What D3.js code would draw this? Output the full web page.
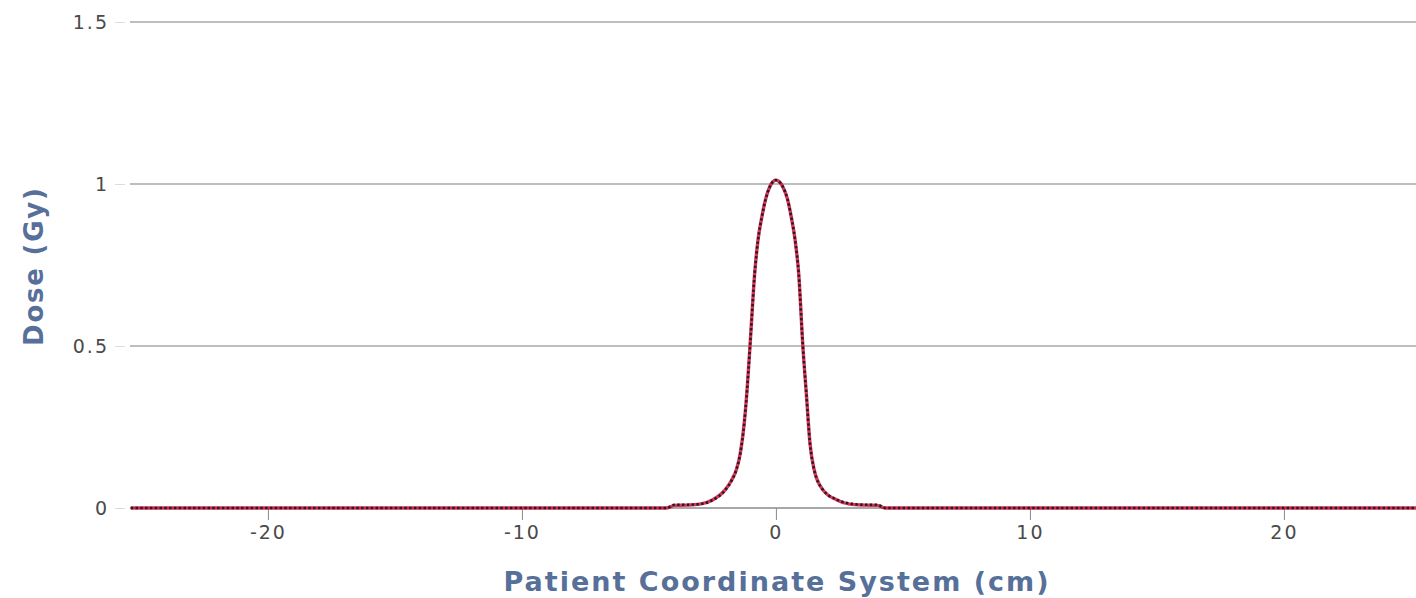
<!DOCTYPE html>
<html>
<head>
<meta charset="utf-8">
<script src="https://cdn.jsdelivr.net/npm/d3@7"></script>
<style>
  html, body { margin: 0; padding: 0; background: #fff; }
  svg { display: block; font-family: "DejaVu Sans", sans-serif; }
</style>
</head>
<body>
<svg id="chart" width="1416" height="598"></svg>
<script>
// Dose profile across the patient coordinate system
const yTicks = [0, 0.5, 1, 1.5];
const xTicks = [-20, -10, 0, 10, 20];
const xTickLabels = ["-20", "-10", "0", "10", "20"];

// Calculated profile (solid red)
const calcPos  = [-25.4, -4.3, -4.0, -3.5, -3.0, -2.5, -2.0, -1.75, -1.55, -1.4, -1.25, -1.14, -1.02, -0.83, -0.7, -0.55, -0.4, -0.25, -0.12, 0.0, 0.12, 0.28, 0.45, 0.6, 0.75, 0.9, 1.06, 1.2, 1.34, 1.5, 1.85, 2.4, 2.9, 3.5, 4.0, 4.3, 25.4];
const calcDose = [0, 0, 0.008, 0.009, 0.012, 0.025, 0.056, 0.085, 0.12, 0.17, 0.26, 0.36, 0.5, 0.73, 0.83, 0.9, 0.955, 0.99, 1.007, 1.012, 1.008, 0.99, 0.955, 0.9, 0.83, 0.72, 0.5, 0.35, 0.2, 0.12, 0.056, 0.025, 0.012, 0.009, 0.008, 0, 0];

// Measured profile (black dotted)
const measPos  = [-25.4, -4.3, -4.0, -3.5, -3.0, -2.5, -2.0, -1.75, -1.55, -1.4, -1.25, -1.14, -1.02, -0.83, -0.7, -0.55, -0.4, -0.25, -0.12, 0.0, 0.12, 0.28, 0.45, 0.6, 0.75, 0.9, 1.06, 1.2, 1.34, 1.5, 1.85, 2.4, 2.9, 3.5, 4.0, 4.3, 25.4];
const measDose = [0, 0, 0.01, 0.01, 0.012, 0.024, 0.055, 0.084, 0.12, 0.17, 0.26, 0.36, 0.5, 0.73, 0.83, 0.9, 0.955, 0.99, 1.007, 1.012, 1.008, 0.99, 0.955, 0.9, 0.83, 0.72, 0.5, 0.35, 0.2, 0.12, 0.056, 0.026, 0.014, 0.01, 0.01, 0, 0];

const svg = d3.select("#chart");

const x = d3.scaleLinear().domain([-25.43, 25.2]).range([130, 1416]);
const y = d3.scaleLinear().domain([0, 1.5]).range([508, 22]);

// Horizontal grid lines
svg.append("g")
  .selectAll("line")
  .data(yTicks.filter(d => d > 0))
  .join("line")
  .attr("x1", x.range()[0]).attr("x2", x.range()[1])
  .attr("y1", d => y(d)).attr("y2", d => y(d))
  .attr("stroke", "#a9a9a9").attr("stroke-width", 1.5);

// Y axis labels and short ticks
const yAxis = svg.append("g")
  .attr("transform", `translate(${x.range()[0] - 5},0)`)
  .call(d3.axisLeft(y).tickValues(yTicks).tickSize(10).tickPadding(6)
    .tickFormat(d => String(d)));
yAxis.select(".domain").remove();
yAxis.selectAll(".tick line").attr("stroke", "#dcdcdc");
yAxis.selectAll(".tick text")
  .attr("fill", "#4a4a4a").attr("font-size", 19)
  .attr("letter-spacing", 2)
  .attr("font-family", "DejaVu Sans, sans-serif");

// Zero baseline
svg.append("line")
  .attr("x1", x.range()[0]).attr("x2", x.range()[1])
  .attr("y1", y(0)).attr("y2", y(0))
  .attr("stroke", "#8a8a8a").attr("stroke-width", 1.5);

// X axis ticks and labels
const xAxis = svg.append("g")
  .attr("transform", `translate(0,${y(0)})`)
  .call(d3.axisBottom(x).tickValues(xTicks).tickSize(12).tickPadding(6)
    .tickFormat((d, i) => xTickLabels[i]));
xAxis.select(".domain").remove();
xAxis.selectAll(".tick line").attr("stroke", "#8a8a8a");
xAxis.selectAll(".tick text")
  .attr("fill", "#4a4a4a").attr("font-size", 19)
  .attr("letter-spacing", 2)
  .attr("font-family", "DejaVu Sans, sans-serif");

// Profiles
const line = d3.line().x(d => x(d[0])).y(d => y(d[1])).curve(d3.curveMonotoneX);

svg.append("path")
  .datum(d3.zip(calcPos, calcDose))
  .attr("d", line)
  .attr("fill", "none")
  .attr("stroke", "#d2143c").attr("stroke-width", 3.4)
  .attr("stroke-opacity", 0.85);

svg.append("path")
  .datum(d3.zip(measPos, measDose))
  .attr("d", line)
  .attr("fill", "none")
  .attr("stroke", "#2a1a22").attr("stroke-width", 2.6)
  .attr("stroke-dasharray", "2.4,2.4");

// Axis titles
svg.append("text")
  .attr("x", 776).attr("y", 591)
  .attr("text-anchor", "middle")
  .attr("font-size", 27).attr("font-weight", "bold")
  .attr("fill", "#56709a")
  .attr("textLength", 545).attr("lengthAdjust", "spacing")
  .text("Patient Coordinate System (cm)");

svg.append("text")
  .attr("transform", "translate(43,267) rotate(-90)")
  .attr("text-anchor", "middle")
  .attr("font-size", 26).attr("font-weight", "bold")
  .attr("fill", "#56709a")
  .attr("textLength", 158).attr("lengthAdjust", "spacing")
  .text("Dose (Gy)");
</script>
</body>
</html>
